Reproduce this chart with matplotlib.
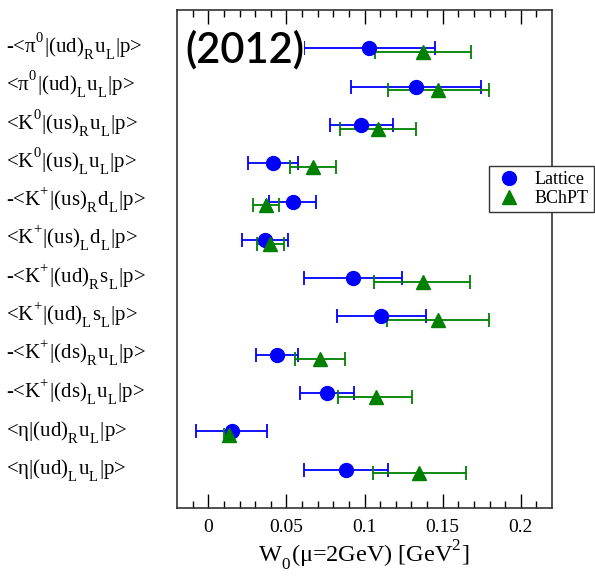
import numpy as np
import matplotlib
matplotlib.use("Agg")
import matplotlib.pyplot as plt
import matplotlib._mathtext as mathtext_internal
from matplotlib.lines import Line2D
from matplotlib.transforms import blended_transform_factory

plt.rcParams['font.family'] = ['Liberation Serif', 'DejaVu Serif']
plt.rcParams['mathtext.fontset'] = 'custom'
plt.rcParams['mathtext.rm'] = 'Liberation Serif'
plt.rcParams['mathtext.it'] = 'Liberation Serif:italic'

# the original labels have scripts pushed further from the baseline
mathtext_internal.FontConstantsBase.sup1 = 1.05
mathtext_internal.FontConstantsBase.sub1 = 0.7
mathtext_internal.FontConstantsBase.script_space = 0.14

# matrix elements, top to bottom
labels = [
    r"-<π$^{0}$|(ud)$_{\mathrm{R}}$u$_{\mathrm{L}}$|p>",
    r"<π$^{0}$|(ud)$_{\mathrm{L}}$u$_{\mathrm{L}}$|p>",
    r"<K$^{0}$|(us)$_{\mathrm{R}}$u$_{\mathrm{L}}$|p>",
    r"<K$^{0}$|(us)$_{\mathrm{L}}$u$_{\mathrm{L}}$|p>",
    r"-<K$^{+}$|(us)$_{\mathrm{R}}$d$_{\mathrm{L}}$|p>",
    r"<K$^{+}$|(us)$_{\mathrm{L}}$d$_{\mathrm{L}}$|p>",
    r"-<K$^{+}$|(ud)$_{\mathrm{R}}$s$_{\mathrm{L}}$|p>",
    r"<K$^{+}$|(ud)$_{\mathrm{L}}$s$_{\mathrm{L}}$|p>",
    r"-<K$^{+}$|(ds)$_{\mathrm{R}}$u$_{\mathrm{L}}$|p>",
    r"-<K$^{+}$|(ds)$_{\mathrm{L}}$u$_{\mathrm{L}}$|p>",
    r"<η|(ud)$_{\mathrm{R}}$u$_{\mathrm{L}}$|p>",
    r"<η|(ud)$_{\mathrm{L}}$u$_{\mathrm{L}}$|p>",
]

# lattice: central value, lower end, upper end  [GeV^2]
lat_val = [0.103, 0.133, 0.098, 0.0415, 0.054, 0.036, 0.0927, 0.1105, 0.0441, 0.0763, 0.0153, 0.0882]
lat_lo = [0.061, 0.0916, 0.0778, 0.0256, 0.039, 0.0213, 0.0613, 0.0822, 0.0308, 0.0585, -0.0077, 0.0611]
lat_hi = [0.1452, 0.1744, 0.1181, 0.0574, 0.069, 0.0508, 0.1237, 0.1391, 0.0574, 0.0935, 0.0379, 0.1148]

# BChPT
chpt_val = [0.1376, 0.1471, 0.1084, 0.0669, 0.037, 0.0396, 0.1372, 0.1471, 0.0714, 0.1071, 0.0131, 0.1348]
chpt_lo = [0.1065, 0.1148, 0.0845, 0.052, 0.0286, 0.031, 0.1062, 0.1146, 0.0553, 0.083, 0.0099, 0.1052]
chpt_hi = [0.1682, 0.1796, 0.1329, 0.0815, 0.0454, 0.0484, 0.1677, 0.1794, 0.0873, 0.1303, 0.0166, 0.165]

rows = np.arange(1, len(labels) + 1)

fig = plt.figure(figsize=(5.95, 5.76), dpi=100)
ax = fig.add_axes([0.2975, 0.1181, 0.6303, 0.8646])

lv = np.array(lat_val)
cv = np.array(chpt_val)
ax.errorbar(lv, rows, xerr=[lv - np.array(lat_lo), np.array(lat_hi) - lv],
            fmt='o', color='#0000ff', ms=10, elinewidth=1.3, capsize=5,
            capthick=1.3, zorder=3)
ax.errorbar(cv, rows + 0.1, xerr=[cv - np.array(chpt_lo), np.array(chpt_hi) - cv],
            fmt='^', color='#008000', ms=10, elinewidth=1.3, capsize=5,
            capthick=1.3, zorder=3)

ax.set_xlim(-0.02, 0.22)
ax.set_ylim(13, 0)
ax.set_xticks([0, 0.05, 0.1, 0.15, 0.2])
ax.set_xticklabels(['0', '0.05', '0.1', '0.15', '0.2'])
ax.set_xticks(np.arange(-0.01, 0.22, 0.01), minor=True)
ax.set_yticks([])
ax.tick_params(axis='x', which='major', direction='in', top=True, length=10, width=1, labelsize=14, pad=8)
ax.tick_params(axis='x', which='minor', direction='in', top=True, length=5, width=1)
for s in ax.spines.values():
    s.set_linewidth(1.2)
    s.set_color('#333333')

ax.set_xlabel(r"W$_{0}$(μ=2GeV) [GeV$^{2}$]", fontsize=17.5, labelpad=1)

# row labels at the left edge of the figure, baseline a bit under the row
trans = blended_transform_factory(fig.transFigure, ax.transData)
for r, lab in zip(rows, labels):
    ax.text(0.01, r + 0.12, lab, transform=trans, ha='left', va='baseline', fontsize=15, clip_on=False)

ax.text(0.021, 0.92, "(2012)", transform=ax.transAxes, ha='left', va='center',
        fontsize=30, family='Lato', weight='semibold', zorder=4,
        bbox=dict(facecolor='white', edgecolor='none', pad=0))

handles = [
    Line2D([], [], ls='none', marker='o', color='#0000ff', ms=10),
    Line2D([], [], ls='none', marker='^', color='#008000', ms=10),
]
leg = ax.legend(handles, ['Lattice', 'BChPT'], loc='upper left', bbox_to_anchor=(0.832, 0.687),
                fancybox=False, framealpha=1, edgecolor='#333333', fontsize=13,
                handletextpad=0.6, borderpad=0.3, labelspacing=0.1, handlelength=1.6,
                borderaxespad=0)
leg.get_frame().set_linewidth(1.0)

fig.savefig("out.png", dpi=100)
